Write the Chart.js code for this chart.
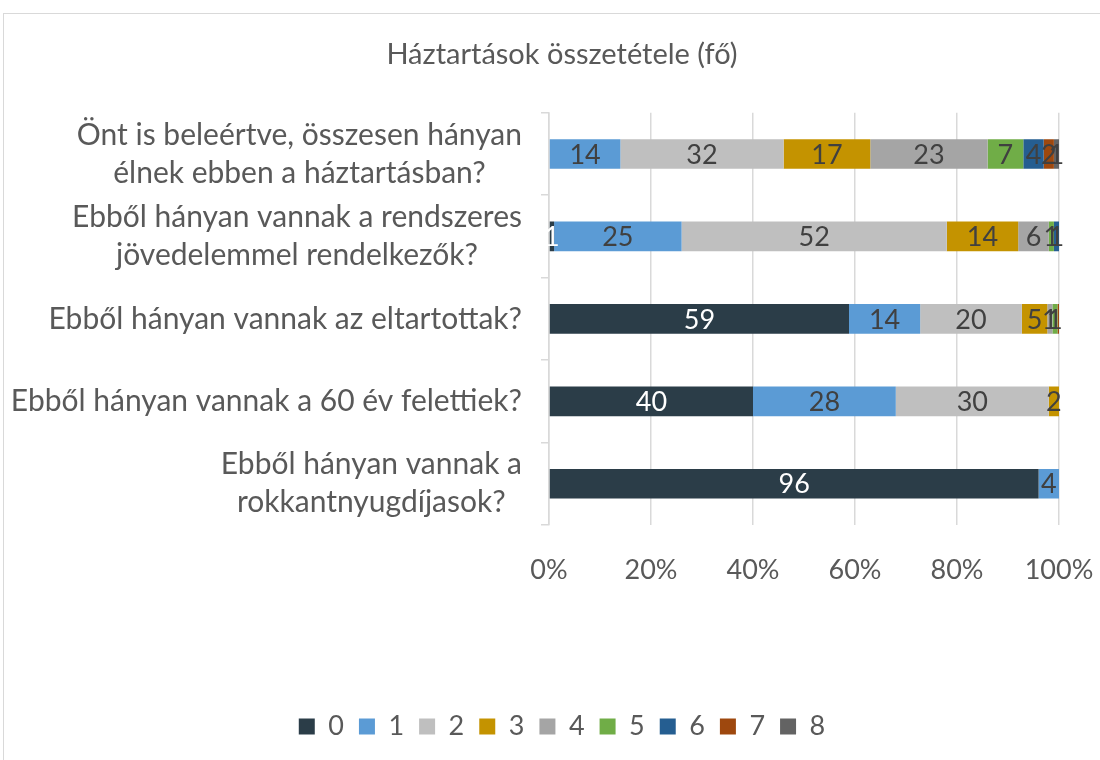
<!DOCTYPE html>
<html>
<head>
<meta charset="utf-8">
<script src="https://cdn.jsdelivr.net/npm/chart.js@4.4.1/dist/chart.umd.min.js"></script>
<style>
  html, body { margin: 0; padding: 0; background: #fff; }
  .wrap { position: relative; width: 1100px; height: 760px; overflow: hidden; }
  .frame { position: absolute; left: 3px; top: 13px; width: 1200px; height: 900px; border: 1px solid #d9d9d9; }
  canvas { position: absolute; left: 0; top: 0; }
</style>
</head>
<body>
<div class="wrap">
  <div class="frame"></div>
  <canvas id="chart" width="1100" height="760"></canvas>
</div>
<script>
const questions = [
  ['Önt is beleértve, összesen hányan', 'élnek ebben a háztartásban?'],
  ['Ebből hányan vannak a rendszeres', 'jövedelemmel rendelkezők?'],
  ['Ebből hányan vannak az eltartottak?'],
  ['Ebből hányan vannak a 60 év felettiek?'],
  ['Ebből hányan vannak a', 'rokkantnyugdíjasok?']
];
const seriesNames = ['0', '1', '2', '3', '4', '5', '6', '7', '8'];
const colors = ['#2b3d48', '#5b9bd5', '#bfbfbf', '#c49300', '#a5a5a5', '#70ad47', '#255e91', '#9e480e', '#636363'];

// one array per household size, values for each question (percent)
const s0 = [0, 1, 59, 40, 96];
const s1 = [14, 25, 14, 28, 4];
const s2 = [32, 52, 20, 30, 0];
const s3 = [17, 14, 5, 2, 0];
const s4 = [23, 6, 1, 0, 0];
const s5 = [7, 1, 1, 0, 0];
const s6 = [4, 1, 0, 0, 0];
const s7 = [2, 0, 0.3, 0, 0];
const s8 = [1, 0, 0, 0, 0];
const series = [s0, s1, s2, s3, s4, s5, s6, s7, s8];

const xTicks = ['0%', '20%', '40%', '60%', '80%', '100%'];

const FONT = 'Lato';
const textColor = '#595959';

// 100% stacked: share of each row total
const rowTotals = questions.map((q, i) => series.reduce((a, s) => a + s[i], 0));

const datasets = series.map((s, k) => ({
  label: seriesNames[k],
  data: s.map((v, i) => v / rowTotals[i] * 100),
  raw: s,
  backgroundColor: colors[k],
  borderWidth: 0,
  categoryPercentage: 1,
  barPercentage: 0.36
}));

const barLabels = {
  id: 'barLabels',
  afterDatasetsDraw(chart) {
    const ctx = chart.ctx;
    ctx.save();
    ctx.font = '27px ' + FONT;
    ctx.textAlign = 'center';
    ctx.textBaseline = 'middle';
    chart.data.datasets.forEach((ds, k) => {
      const meta = chart.getDatasetMeta(k);
      meta.data.forEach((bar, i) => {
        const v = ds.raw[i];
        if (v < 0.5) return;
        ctx.fillStyle = k === 0 ? '#ffffff' : '#404040';
        ctx.fillText(String(Math.round(v)), (bar.x + bar.base) / 2, bar.y + 1);
      });
    });
    ctx.restore();
  }
};

const questionLabels = {
  id: 'questionLabels',
  afterDraw(chart) {
    const ctx = chart.ctx;
    const y = chart.scales.y;
    const right = y.right - 27;
    const lh = 38;
    ctx.save();
    ctx.font = '30px ' + FONT;
    ctx.fillStyle = textColor;
    ctx.textAlign = 'center';
    ctx.textBaseline = 'middle';
    questions.forEach((lines, i) => {
      const cy = y.getPixelForValue(i);
      const w = Math.max(...lines.map(l => ctx.measureText(l).width));
      const cx = right - w / 2;
      lines.forEach((l, j) => {
        ctx.fillText(l, cx, cy + (j - (lines.length - 1) / 2) * lh);
      });
    });
    ctx.restore();
  }
};

new Chart(document.getElementById('chart'), {
  type: 'bar',
  data: { labels: questions.map(q => q.join(' ')), datasets: datasets },
  options: {
    indexAxis: 'y',
    responsive: false,
    animation: false,
    layout: { padding: { left: 65, right: 41, top: 0, bottom: 10 } },
    scales: {
      x: {
        stacked: true,
        min: 0,
        max: 100,
        border: { display: false },
        grid: { color: '#d9d9d9', lineWidth: 1.5, drawTicks: false },
        ticks: {
          stepSize: 20,
          padding: 29,
          color: textColor,
          font: { family: FONT, size: 27 },
          callback: (v, i) => xTicks[i]
        },
        afterFit: s => { s.height = 173; s.paddingLeft = 0; s.paddingRight = 0; }
      },
      y: {
        stacked: true,
        border: { display: true, color: '#d9d9d9', width: 1.5 },
        grid: { drawOnChartArea: false, color: '#d9d9d9', lineWidth: 1.5, tickLength: 8, offset: true },
        ticks: { display: false },
        afterFit: s => { s.width = 484; }
      }
    },
    plugins: {
      title: {
        display: true,
        text: 'Háztartások összetétele (fő)',
        color: textColor,
        font: { family: FONT, size: 29, weight: 'normal' },
        padding: { top: 37, bottom: 41 }
      },
      legend: {
        position: 'bottom',
        labels: {
          boxWidth: 16,
          boxHeight: 16,
          padding: 15,
          color: textColor,
          font: { family: FONT, size: 27 }
        }
      },
      tooltip: { enabled: false }
    }
  },
  plugins: [barLabels, questionLabels]
});
</script>
</body>
</html>
